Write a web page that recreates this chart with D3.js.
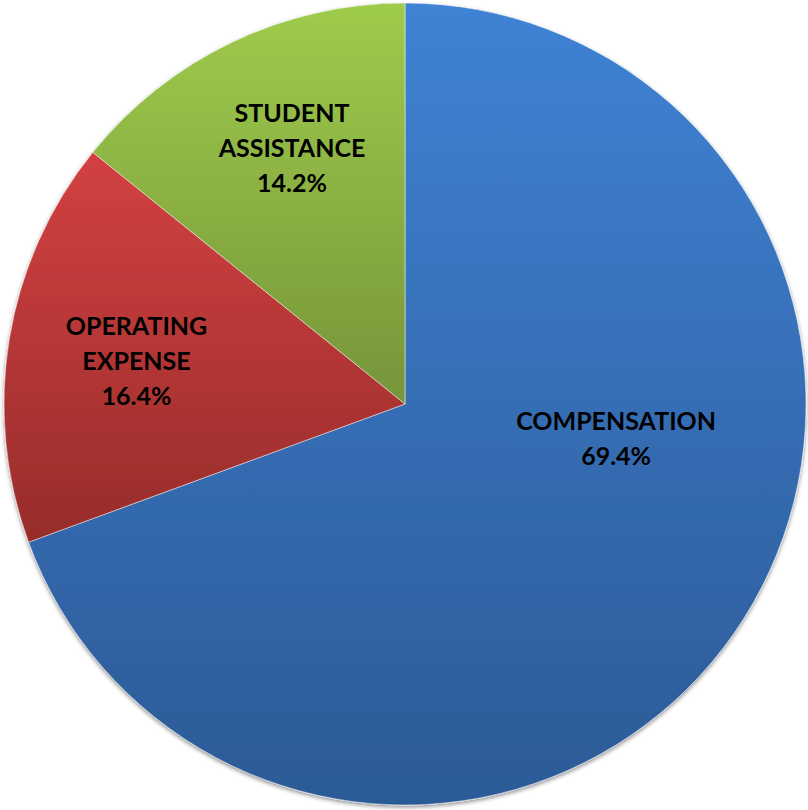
<!DOCTYPE html>
<html>
<head>
<meta charset="utf-8">
<script src="https://cdn.jsdelivr.net/npm/d3@7"></script>
<style>
  html, body { margin: 0; padding: 0; background: #fff; }
  svg { display: block; }
</style>
</head>
<body>
<div id="chart"></div>
<script>
// slices, clockwise from 12 o'clock
const categories = ['COMPENSATION', 'OPERATING EXPENSE', 'STUDENT ASSISTANCE'];
const values = [69.4, 16.4, 14.2];
const labelLines = [['COMPENSATION'], ['OPERATING', 'EXPENSE'], ['STUDENT', 'ASSISTANCE']];
const topColors = ['#3f82d4', '#d34141', '#9fcb4b'];
const bottomColors = ['#2c5a96', '#972c2b', '#75953a'];

const width = 808, height = 810;
const cx = 405, cy = 404, radius = 401;

const svg = d3.select('#chart')
    .append('svg')
    .attr('width', width)
    .attr('height', height);

const defs = svg.append('defs');

const shadow = defs.append('filter')
    .attr('id', 'shadow')
    .attr('x', '-5%').attr('y', '-5%')
    .attr('width', '110%').attr('height', '110%');
shadow.append('feGaussianBlur').attr('in', 'SourceAlpha').attr('stdDeviation', 2);
shadow.append('feOffset').attr('dx', 0).attr('dy', 2).attr('result', 'off');
shadow.append('feComponentTransfer').append('feFuncA').attr('type', 'linear').attr('slope', 0.45);
const merge = shadow.append('feMerge');
merge.append('feMergeNode');
merge.append('feMergeNode').attr('in', 'SourceGraphic');

categories.forEach((c, i) => {
    const g = defs.append('linearGradient')
        .attr('id', 'grad' + i)
        .attr('x1', 0).attr('y1', 0)
        .attr('x2', 0).attr('y2', 1);
    g.append('stop').attr('offset', '0%').attr('stop-color', topColors[i]);
    g.append('stop').attr('offset', '100%').attr('stop-color', bottomColors[i]);
});

const pie = d3.pie().sort(null).value(d => d);
const arcs = pie(values);

const arc = d3.arc().innerRadius(0).outerRadius(radius);

const chart = svg.append('g')
    .attr('transform', `translate(${cx},${cy})`);

chart.append('g')
    .attr('filter', 'url(#shadow)')
    .selectAll('path')
    .data(arcs)
    .join('path')
    .attr('d', arc)
    .attr('fill', (d, i) => `url(#grad${i})`)
    .attr('stroke', 'rgba(255,255,255,0.6)')
    .attr('stroke-width', 0.8);

// label spots (angle in degrees from 12 o'clock, distance from centre), like excel's best fit
const labelSpots = [[99.4, 214], [279.2, 272], [336.2, 280]];
function labelPos(d, i) {
    const a = labelSpots[i][0] * Math.PI / 180, r = labelSpots[i][1];
    return [r * Math.sin(a), -r * Math.cos(a)];
}

const lineH = 35;
const labels = chart.append('g')
    .selectAll('text')
    .data(arcs)
    .join('text')
    .attr('text-anchor', 'middle')
    .attr('font-family', 'Lato, "Liberation Sans", sans-serif')
    .attr('font-weight', 'bold')
    .attr('font-size', 25)
    .attr('fill', '#000');

labels.each(function (d, i) {
    const [x, y] = labelPos(d, i);
    const lines = labelLines[i].concat([d3.format('.1f')(values[i]) + '%']);
    const y0 = y - (lines.length - 1) * lineH / 2 + 9;
    d3.select(this).selectAll('tspan')
        .data(lines)
        .join('tspan')
        .attr('x', x)
        .attr('y', (l, j) => y0 + j * lineH)
        .text(l => l);
});
</script>
</body>
</html>
